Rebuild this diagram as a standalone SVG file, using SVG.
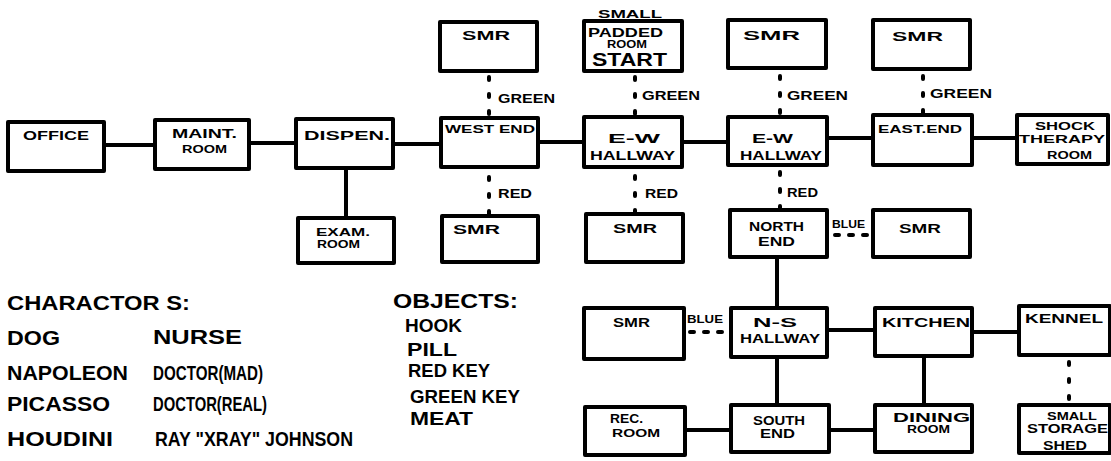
<svg xmlns="http://www.w3.org/2000/svg" width="1111" height="461" viewBox="0 0 1111 461">
<style>
.box{fill:#fff;stroke:#000;stroke-width:4;stroke-linejoin:round}
.ln{stroke:#000;stroke-width:4;fill:none;stroke-linecap:round}
.dot{stroke:#000;stroke-width:4;fill:none;stroke-linecap:round;stroke-dasharray:3 14}
.dash{stroke:#000;stroke-width:4;fill:none;stroke-linecap:round;stroke-dasharray:4 10}
text{font-family:"Liberation Sans",Arial,sans-serif;font-weight:bold;fill:#000}
.s{font-size:13px}
.xs{font-size:11px}
.lg{font-size:21px}
.md{font-size:18px}
</style>
<rect width="1111" height="461" fill="#fff"/>
<g id="connectors">
<path class="ln" d="M104 145H155M249 143H296M393 144H441M538 142H584M682 142H728M827 138H873M972 138H1017"/>
<path class="ln" d="M346 168V218M777 257V308M777 357V405M924 356V405M827 330H875M972 332H1019M685 430H731M829 430H875"/>
<path class="dot" d="M489 77V115M489 177V215M635 77V115M635 176V214M780 76V114M780 172V210M923 76V114M1069 362V400"/>
<path class="dash" d="M835 235H870M690 332H727"/>
<text class="s" x="498" y="103" textLength="57" lengthAdjust="spacingAndGlyphs">GREEN</text>
<text class="s" x="642" y="100" textLength="58" lengthAdjust="spacingAndGlyphs">GREEN</text>
<text class="s" x="787" y="100" textLength="61" lengthAdjust="spacingAndGlyphs">GREEN</text>
<text class="s" x="930" y="98" textLength="62" lengthAdjust="spacingAndGlyphs">GREEN</text>
<text class="s" x="498" y="198" textLength="34" lengthAdjust="spacingAndGlyphs">RED</text>
<text class="s" x="645" y="198" textLength="33" lengthAdjust="spacingAndGlyphs">RED</text>
<text class="s" x="787" y="197" textLength="31" lengthAdjust="spacingAndGlyphs">RED</text>
<text class="xs" x="832" y="228" textLength="33" lengthAdjust="spacingAndGlyphs">BLUE</text>
<text class="xs" x="687" y="323" textLength="36" lengthAdjust="spacingAndGlyphs">BLUE</text>
</g>
<g id="office"><rect class="box" x="8" y="122" width="96" height="49"/><text class="s" x="23" y="140" textLength="66" lengthAdjust="spacingAndGlyphs">OFFICE</text></g>
<g id="maint"><rect class="box" x="155" y="120" width="94" height="49"/><text class="s" x="172" y="138" textLength="65" lengthAdjust="spacingAndGlyphs">MAINT.</text><text class="xs" x="182" y="153" textLength="45" lengthAdjust="spacingAndGlyphs">ROOM</text></g>
<g id="dispen"><rect class="box" x="296" y="119" width="97" height="49"/><text class="s" x="304" y="140" textLength="86" lengthAdjust="spacingAndGlyphs">DISPEN.</text></g>
<g id="exam"><rect class="box" x="298" y="218" width="96" height="45"/><text class="xs" x="316" y="236" textLength="54" lengthAdjust="spacingAndGlyphs">EXAM.</text><text class="xs" x="317" y="248" textLength="43" lengthAdjust="spacingAndGlyphs">ROOM</text></g>
<g id="smr-west-top"><rect class="box" x="440" y="22" width="97" height="49"/><text class="s" x="462" y="40" textLength="48" lengthAdjust="spacingAndGlyphs">SMR</text></g>
<g id="west-end"><rect class="box" x="441" y="118" width="97" height="49"/><text class="xs" x="445" y="133" textLength="90" lengthAdjust="spacingAndGlyphs">WEST END</text></g>
<g id="smr-west-bottom"><rect class="box" x="442" y="216" width="96" height="46"/><text class="s" x="453" y="234" textLength="47" lengthAdjust="spacingAndGlyphs">SMR</text></g>
<g id="padded-room"><text class="xs" x="598" y="18" textLength="64" lengthAdjust="spacingAndGlyphs">SMALL</text><rect class="box" x="584" y="21" width="98" height="50"/><text class="s" x="588" y="37" textLength="75" lengthAdjust="spacingAndGlyphs">PADDED</text><text class="xs" x="607" y="48" textLength="40" lengthAdjust="spacingAndGlyphs">ROOM</text><text class="md" x="592" y="66" textLength="75" lengthAdjust="spacingAndGlyphs">START</text></g>
<g id="ew-hallway-1"><rect class="box" x="584" y="117" width="98" height="50"/><text class="s" x="608" y="143" textLength="52" lengthAdjust="spacingAndGlyphs">E-W</text><text class="s" x="590" y="160" textLength="85" lengthAdjust="spacingAndGlyphs">HALLWAY</text></g>
<g id="smr-ew1-bottom"><rect class="box" x="586" y="214" width="97" height="48"/><text class="s" x="613" y="233" textLength="44" lengthAdjust="spacingAndGlyphs">SMR</text></g>
<g id="smr-ew2-top"><rect class="box" x="728" y="20" width="98" height="48"/><text class="s" x="743" y="40" textLength="57" lengthAdjust="spacingAndGlyphs">SMR</text></g>
<g id="ew-hallway-2"><rect class="box" x="728" y="117" width="99" height="48"/><text class="s" x="752" y="143" textLength="41" lengthAdjust="spacingAndGlyphs">E-W</text><text class="s" x="740" y="160" textLength="82" lengthAdjust="spacingAndGlyphs">HALLWAY</text></g>
<g id="north-end"><rect class="box" x="730" y="210" width="97" height="47"/><text class="s" x="749" y="231" textLength="55" lengthAdjust="spacingAndGlyphs">NORTH</text><text class="s" x="758" y="246" textLength="37" lengthAdjust="spacingAndGlyphs">END</text></g>
<g id="smr-north-right"><rect class="box" x="873" y="210" width="97" height="47"/><text class="s" x="899" y="233" textLength="42" lengthAdjust="spacingAndGlyphs">SMR</text></g>
<g id="smr-east-top"><rect class="box" x="873" y="20" width="97" height="49"/><text class="s" x="892" y="41" textLength="51" lengthAdjust="spacingAndGlyphs">SMR</text></g>
<g id="east-end"><rect class="box" x="873" y="115" width="99" height="50"/><text class="xs" x="878" y="133" textLength="84" lengthAdjust="spacingAndGlyphs">EAST.END</text></g>
<g id="shock-therapy"><rect class="box" x="1017" y="115" width="91" height="49"/><text class="xs" x="1035" y="130" textLength="60" lengthAdjust="spacingAndGlyphs">SHOCK</text><text class="xs" x="1019" y="143" textLength="86" lengthAdjust="spacingAndGlyphs">THERAPY</text><text class="xs" x="1047" y="159" textLength="45" lengthAdjust="spacingAndGlyphs">ROOM</text></g>
<g id="smr-mid"><rect class="box" x="584" y="308" width="100" height="51"/><text class="s" x="613" y="327" textLength="37" lengthAdjust="spacingAndGlyphs">SMR</text></g>
<g id="ns-hallway"><rect class="box" x="731" y="308" width="96" height="49"/><text class="s" x="753" y="327" textLength="44" lengthAdjust="spacingAndGlyphs">N-S</text><text class="s" x="740" y="343" textLength="80" lengthAdjust="spacingAndGlyphs">HALLWAY</text></g>
<g id="kitchen"><rect class="box" x="875" y="308" width="97" height="48"/><text class="s" x="882" y="327" textLength="88" lengthAdjust="spacingAndGlyphs">KITCHEN</text></g>
<g id="kennel"><rect class="box" x="1019" y="306" width="91" height="49"/><text class="s" x="1025" y="323" textLength="78" lengthAdjust="spacingAndGlyphs">KENNEL</text></g>
<g id="rec-room"><rect class="box" x="585" y="407" width="100" height="48"/><text class="s" x="610" y="423" textLength="33" lengthAdjust="spacingAndGlyphs">REC.</text><text class="xs" x="612" y="437" textLength="48" lengthAdjust="spacingAndGlyphs">ROOM</text></g>
<g id="south-end"><rect class="box" x="731" y="405" width="98" height="47"/><text class="s" x="753" y="425" textLength="52" lengthAdjust="spacingAndGlyphs">SOUTH</text><text class="s" x="760" y="438" textLength="35" lengthAdjust="spacingAndGlyphs">END</text></g>
<g id="dining-room"><rect class="box" x="875" y="405" width="97" height="47"/><text class="s" x="893" y="422" textLength="77" lengthAdjust="spacingAndGlyphs">DINING</text><text class="xs" x="907" y="433" textLength="43" lengthAdjust="spacingAndGlyphs">ROOM</text></g>
<g id="storage-shed"><rect class="box" x="1019" y="405" width="91" height="48"/><text class="xs" x="1047" y="420" textLength="50" lengthAdjust="spacingAndGlyphs">SMALL</text><text class="s" x="1027" y="433" textLength="81" lengthAdjust="spacingAndGlyphs">STORAGE</text><text class="s" x="1043" y="450" textLength="44" lengthAdjust="spacingAndGlyphs">SHED</text></g>
<g id="characters">
<text class="lg" x="7" y="310" textLength="183" lengthAdjust="spacingAndGlyphs">CHARACTOR S:</text>
<text class="lg" x="7" y="345" textLength="53" lengthAdjust="spacingAndGlyphs">DOG</text>
<text class="lg" x="153" y="344" textLength="89" lengthAdjust="spacingAndGlyphs">NURSE</text>
<text class="lg" x="7" y="380" textLength="121" lengthAdjust="spacingAndGlyphs">NAPOLEON</text>
<text class="lg" x="153" y="380" textLength="110" lengthAdjust="spacingAndGlyphs">DOCTOR(MAD)</text>
<text class="lg" x="7" y="411" textLength="103" lengthAdjust="spacingAndGlyphs">PICASSO</text>
<text class="lg" x="153" y="411" textLength="114" lengthAdjust="spacingAndGlyphs">DOCTOR(REAL)</text>
<text class="lg" x="7" y="446" textLength="106" lengthAdjust="spacingAndGlyphs">HOUDINI</text>
<text class="lg" x="155" y="446" textLength="198" lengthAdjust="spacingAndGlyphs">RAY "XRAY" JOHNSON</text>
</g>
<g id="objects">
<text class="lg" x="393" y="308" textLength="125" lengthAdjust="spacingAndGlyphs">OBJECTS:</text>
<text class="md" x="405" y="332" textLength="57" lengthAdjust="spacingAndGlyphs">HOOK</text>
<text class="md" x="407" y="356" textLength="50" lengthAdjust="spacingAndGlyphs">PILL</text>
<text class="md" x="408" y="377" textLength="82" lengthAdjust="spacingAndGlyphs">RED KEY</text>
<text class="md" x="410" y="403" textLength="110" lengthAdjust="spacingAndGlyphs">GREEN KEY</text>
<text class="md" x="410" y="425" textLength="63" lengthAdjust="spacingAndGlyphs">MEAT</text>
</g>
</svg>
